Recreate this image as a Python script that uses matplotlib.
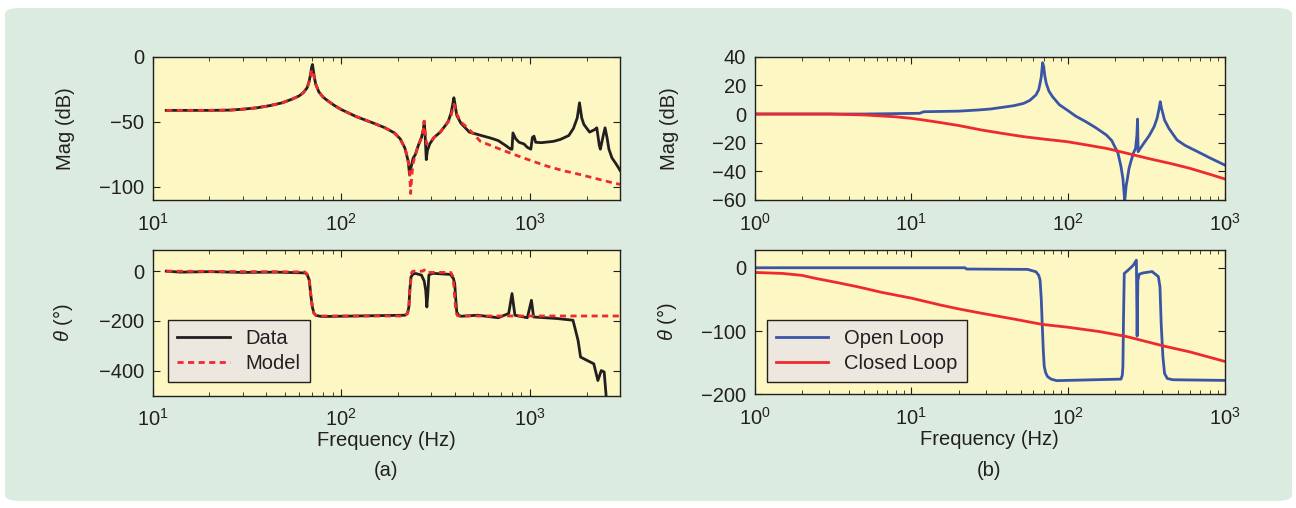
import matplotlib.pyplot as plt
from matplotlib.patches import FancyBboxPatch

plt.rcParams['font.family'] = ['Liberation Sans', 'DejaVu Sans']
plt.rcParams['mathtext.fontset'] = 'custom'
plt.rcParams['mathtext.rm'] = 'Liberation Sans'
plt.rcParams['mathtext.it'] = 'Liberation Sans:italic'

# ---- panel (a): measured data vs model ----
fa_mag = [11.8, 20, 25.8, 30, 35.8, 42, 48.6, 55, 59.6, 63, 65.9, 67.5, 68.8, 69.6, 70.3, 71, 72,
          73.1, 76, 80, 85, 92, 100, 120, 148, 170, 191, 205, 217, 226, 230, 234, 240, 247, 256,
          266, 272, 275, 278, 282, 286, 294, 310, 334, 355, 369, 382, 390, 395, 400, 409, 430,
          450, 477, 552, 620, 679, 740, 790, 803, 812, 840, 875, 930, 968, 1010, 1030, 1050,
          1072, 1150, 1330, 1450, 1606, 1700, 1780, 1830, 1880, 1930, 2070, 2200, 2260, 2330,
          2360, 2450, 2500, 2560, 2620, 2720, 2850, 2950, 3000]
data_mag = [-41.2, -41.2, -41, -40.3, -39.2, -37.5, -35.4, -32.5, -30.2, -27.5, -23.8, -19, -13,
            -8, -6, -10, -16, -21, -27, -31, -34, -37.5, -40.6, -46, -51, -54.5, -58.5, -63, -70,
            -80, -90.5, -85, -78, -75, -68, -62, -56, -49.6, -60, -79, -72, -67, -62, -58, -53,
            -49.6, -43, -36, -31.5, -36, -45, -51, -54, -57.9, -60.5, -62.5, -64.4, -68, -71, -71,
            -58.5, -63, -65.7, -67, -69.6, -71, -62, -61, -65.7, -66, -65, -63.5, -60.5, -55, -47,
            -35.4, -47, -52, -57.9, -56, -54.6, -68, -71, -60, -54.6, -62, -71, -77.7, -82, -85.4,
            -87.3]

fm_mag = [11.8, 20, 25.8, 30, 35.8, 42, 48.6, 55, 59.6, 63, 65.9, 67.5, 68.8, 69.8, 70.8, 72,
          73.1, 76, 80, 85, 92, 100, 120, 148, 170, 191, 205, 217, 225, 230, 233, 236, 240, 247,
          256, 266, 272, 275, 278, 283, 294, 310, 334, 355, 369, 382, 390, 396, 402, 409, 430,
          477, 546, 680, 820, 1000, 1230, 1500, 1850, 2300, 2780, 3000]
model_mag = [-41.2, -41.2, -41, -40.3, -39.2, -37.5, -35.4, -32.5, -30.2, -27.5, -23.8, -19,
             -14, -10, -12, -17, -21, -27, -31, -34, -37.5, -40.6, -46, -51, -54.5, -58.5, -63,
             -70, -78, -88, -105, -92, -82, -75, -68, -62, -56, -49.5, -58, -67, -66, -62, -58,
             -53, -50, -45, -40, -36.6, -40, -44, -50, -56, -65, -70.5, -75, -79.5, -84, -87.5,
             -90.5, -94, -97, -98]

fa_ph = [11.8, 14, 20, 30, 45, 64.3, 66, 67.6, 69, 70.2, 71.5, 73.1, 77, 80.9, 217, 224, 228,
         231, 234, 240, 247, 266, 275, 280, 284, 288, 291, 300, 309, 378, 393, 399, 403, 409,
         420, 431, 527, 679, 771, 803, 832, 968, 1018, 1045, 1380, 1690, 1798, 1854, 2178, 2290,
         2387, 2473, 2536]
data_ph = [0, -4, -2, -5, -4, -7, -15, -36, -100, -144, -168, -177, -181, -182, -177, -170, -144,
           -70, -23, -12, -9, -16, -40, -76, -144, -80, -16, -10, -9, -13, -30, -50, -100, -164,
           -178, -181, -177, -187, -170, -90, -177, -187, -117, -184, -190, -197, -278, -345,
           -372, -439, -399, -405, -506]

fm_ph = [11.8, 64, 66, 67.6, 69, 70.2, 71.5, 73.1, 77, 80, 217, 224, 228, 231, 236, 240, 270, 275,
         280, 290, 380, 390, 395, 400, 405, 412, 420, 3000]
model_ph = [0, -3, -12, -36, -100, -144, -168, -177, -180, -180, -180, -170, -150, -70, -5, 0,
            0, 5, -5, -5, -5, -20, -60, -120, -165, -178, -180, -180]

# ---- panel (b): open vs closed loop ----
fb_ol_mag = [1, 5, 11.3, 12, 20, 26.6, 32, 38.3, 45, 52, 57, 62.4, 65, 66.3, 67.5, 68.8, 70, 71,
             72.6, 75.5, 79.6, 88, 98.6, 112, 129.7, 150, 175.9, 190, 198.7, 208, 217.7, 224,
             230, 235, 238.6, 245, 253.6, 262, 269.6, 275, 277.8, 280, 285, 304, 330, 354.5, 370,
             380, 388, 395, 413, 440, 496, 560, 672, 800, 1000]
ol_mag = [0, 0, 0.5, 1.6, 2, 2.8, 3.5, 4.7, 5.8, 7.4, 9.5, 13.3, 17, 21.4, 26, 35.8, 33, 27,
          21.4, 16, 12.1, 6.5, 2.8, -1.5, -5.3, -9.5, -14.7, -18.5, -22.8, -27, -36.7, -45, -61,
          -50, -46, -38, -32, -27, -24, -15, -3.5, -26.3, -25, -20.5, -15, -8.8, -3, 3, 8.6, 4,
          -4.2, -10, -18.1, -22, -26.3, -30.5, -35.6]

fb_cl_mag = [1, 3, 5.1, 7.85, 10, 12.5, 15.4, 20, 28.2, 38, 52, 70, 98.6, 130, 176, 240, 324, 450,
             595, 800, 1000]
cl_mag = [0, 0, -0.7, -1.9, -3, -4.5, -6, -8, -11.2, -13.5, -15.8, -17.5, -19.3, -21.5, -24,
          -27.5, -31, -34.5, -37.8, -42, -45.3]

fb_ol_ph = [1, 22, 22.5, 55.2, 62.4, 65, 66.3, 67.5, 68.4, 69.5, 70.5, 72, 74, 78, 84.6, 217.7,
            222, 224, 226, 228.5, 238.8, 261, 273, 276, 279, 285, 304, 344, 377, 386, 393, 403,
            413, 430, 467, 1000]
ol_ph = [0, 0, -2, -2.6, -6.3, -12, -19.5, -50, -88, -130, -156, -166, -172, -176, -178.4, -176,
         -170, -156, -80, -9, -5, 4, 12, -108, -20, -10, -8, -6, -14, -30, -88, -140, -167, -175,
         -177, -178]

fb_cl_ph = [1, 1.51, 2, 2.47, 3.3, 4.53, 6.5, 10, 15.4, 20, 28.2, 45, 68.4, 100, 160, 239, 413,
            600, 1000]
cl_ph = [-7.4, -9, -12, -17, -23, -30, -39, -48, -59, -65, -72, -81, -89.5, -94, -101, -109,
         -124, -133, -148]

yellow = '#fdf7c4'
green = '#dcebe0'
black = '#231f20'
red = '#ee2a2e'
blue = '#3a55a6'

fig = plt.figure(figsize=(12.96, 5.08), dpi=100, facecolor='white')
fig.patches.append(FancyBboxPatch((5 / 1296, 1 - 501 / 508), 1287 / 1296, 493 / 508,
                                  boxstyle='round,pad=0,rounding_size=0.012',
                                  transform=fig.transFigure, facecolor=green,
                                  edgecolor='none', zorder=-10))

ax1 = fig.add_axes([0.1178, 0.6063, 0.3606, 0.2821])
ax2 = fig.add_axes([0.1178, 0.2211, 0.3606, 0.2868])
ax3 = fig.add_axes([0.5823, 0.6063, 0.3627, 0.2821])
ax4 = fig.add_axes([0.5823, 0.2238, 0.3627, 0.2840])

dash = (0, (2.2, 1.6))
ax1.semilogx(fa_mag, data_mag, color=black, lw=2)
ax1.semilogx(fm_mag, model_mag, color=red, lw=2, linestyle=dash)
ax2.semilogx(fa_ph, data_ph, color=black, lw=2, label='Data')
ax2.semilogx(fm_ph, model_ph, color=red, lw=2, linestyle=dash, label='Model')
ax3.semilogx(fb_ol_mag, ol_mag, color=blue, lw=2)
ax3.semilogx(fb_cl_mag, cl_mag, color=red, lw=2)
ax4.semilogx(fb_ol_ph, ol_ph, color=blue, lw=2, label='Open Loop')
ax4.semilogx(fb_cl_ph, cl_ph, color=red, lw=2, label='Closed Loop')

ax1.set_xlim(10, 3000)
ax2.set_xlim(10, 3000)
ax1.set_ylim(-110, 0)
ax2.set_ylim(-500, 85)
ax1.set_yticks([-100, -50, 0])
ax2.set_yticks([-400, -200, 0])
ax3.set_xlim(1, 1000)
ax4.set_xlim(1, 1000)
ax3.set_ylim(-60, 40)
ax4.set_ylim(-200, 28)
ax3.set_yticks([-60, -40, -20, 0, 20, 40])
ax4.set_yticks([-200, -100, 0])

for ax in (ax1, ax2, ax3, ax4):
    ax.set_facecolor(yellow)
    ax.tick_params(which='both', direction='in', top=True, right=True, labelsize=14.5,
                   colors=black, pad=6)
    ax.tick_params(axis='x', which='both', pad=9)
    ax.tick_params(which='major', length=5)
    ax.tick_params(which='minor', length=3)
    for s in ax.spines.values():
        s.set_color(black)
        s.set_linewidth(1)

ax1.set_ylabel('Mag (dB)', fontsize=14.5, color=black)
ax3.set_ylabel('Mag (dB)', fontsize=14.5, color=black)
ax2.set_ylabel(r'$\it{\theta}$ (°)', fontsize=14.5, color=black)
ax4.set_ylabel(r'$\it{\theta}$ (°)', fontsize=14.5, color=black)
ax1.yaxis.set_label_coords(-0.166, 0.5)
ax2.yaxis.set_label_coords(-0.166, 0.5)
ax3.yaxis.set_label_coords(-0.161, 0.5)
ax4.yaxis.set_label_coords(-0.161, 0.5)

ax2.set_xlabel('Frequency (Hz)', fontsize=14.5, color=black)
ax4.set_xlabel('Frequency (Hz)', fontsize=14.5, color=black)
ax2.xaxis.set_label_coords(0.5, -0.245)
ax4.xaxis.set_label_coords(0.5, -0.245)

fig.text(386 / 1296, 1 - 470 / 508, '(a)', ha='center', va='center', fontsize=14.5, color=black)
fig.text(989 / 1296, 1 - 470 / 508, '(b)', ha='center', va='center', fontsize=14.5, color=black)

for ax, anchor in ((ax2, (0.033, 0.096)), (ax4, (0.026, 0.087))):
    leg = ax.legend(loc='lower left', bbox_to_anchor=anchor, borderaxespad=0, fontsize=14.5,
                    fancybox=False, framealpha=1, facecolor='#ece8df', edgecolor=black,
                    handlelength=2.6, labelspacing=0.3, borderpad=0.45)
    leg.get_frame().set_linewidth(1)
    for t in leg.get_texts():
        t.set_color(black)

fig.savefig('out.png', dpi=100, facecolor='white')
